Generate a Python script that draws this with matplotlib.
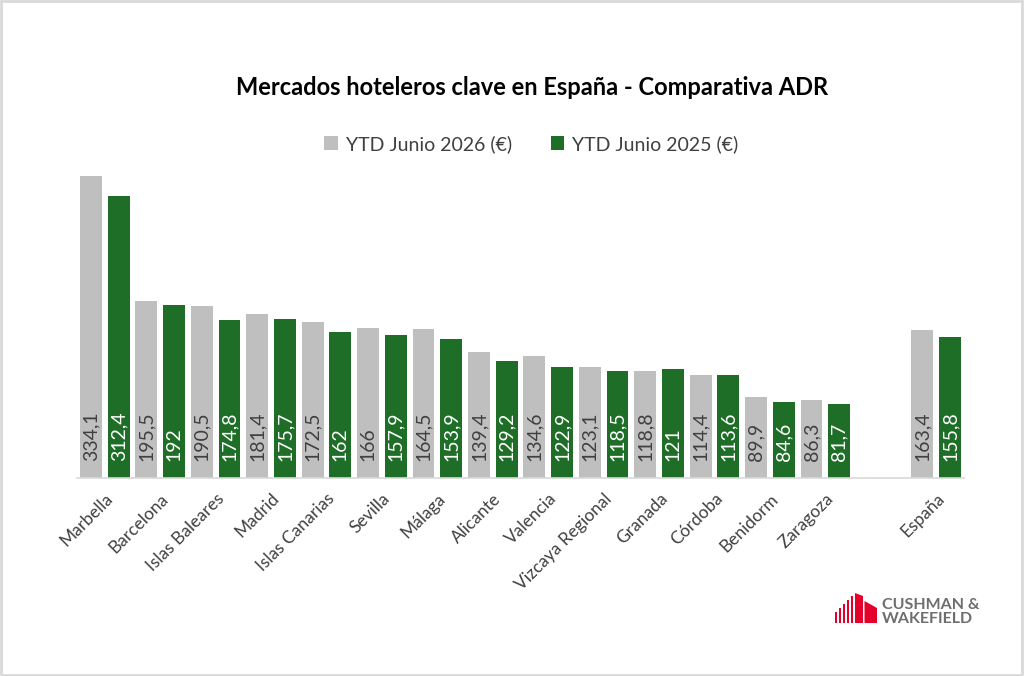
import numpy as np
import matplotlib
matplotlib.use("Agg")
import matplotlib.pyplot as plt
from matplotlib.patches import Rectangle, Polygon

plt.rcParams["font.family"] = ["Lato", "DejaVu Sans"]

TITLE = "Mercados hoteleros clave en España - Comparativa ADR"
SERIES = ["YTD Junio 2026 (€)", "YTD Junio 2025 (€)"]

cities = [
    "Marbella", "Barcelona", "Islas Baleares", "Madrid", "Islas Canarias",
    "Sevilla", "Málaga", "Alicante", "Valencia", "Vizcaya Regional",
    "Granada", "Córdoba", "Benidorm", "Zaragoza", "España",
]
adr_2026 = [334.1, 195.5, 190.5, 181.4, 172.5, 166, 164.5, 139.4, 134.6, 123.1,
            118.8, 114.4, 89.9, 86.3, 163.4]
adr_2025 = [312.4, 192, 174.8, 175.7, 162, 157.9, 153.9, 129.2, 122.9, 118.5,
            121, 113.6, 84.6, 81.7, 155.8]

GREY = "#BFBFBF"
GREEN = "#1E6E28"
TEXT = "#404040"


def fmt(v):
    s = f"{v:.1f}".replace(".", ",")
    return s[:-2] if s.endswith(",0") else s


fig = plt.figure(figsize=(10.24, 6.76), dpi=100)
ax = fig.add_axes([0.0753, 0.2929, 0.866, 0.4675])

# pair index: cities 0..13, one empty slot, then España
pos = np.array(list(range(len(cities) - 1)) + [len(cities)], dtype=float)
x_grey = pos * 2
x_green = pos * 2 + 1
w = 0.79

b1 = ax.bar(x_grey, adr_2026, w, color=GREY, label=SERIES[0])
b2 = ax.bar(x_green, adr_2025, w, color=GREEN, label=SERIES[1])

for bars, vals, col in ((b1, adr_2026, TEXT), (b2, adr_2025, "white")):
    for r, v in zip(bars, vals):
        ax.annotate(fmt(v), (r.get_x() + r.get_width() / 2, 0),
                    xytext=(0, 12), textcoords="offset points",
                    rotation=90, ha="center", va="bottom",
                    fontsize=14, color=col)

ax.set_xlim(-0.5, 31.5)
ax.set_ylim(0, 350)
ax.set_xticks(pos * 2 + 0.5)
ax.set_xticklabels(cities, rotation=45, ha="right", rotation_mode="anchor",
                   fontsize=12.5, color=TEXT)
ax.tick_params(axis="x", length=0, pad=9)
ax.set_yticks([])
for side in ("top", "right", "left"):
    ax.spines[side].set_visible(False)
ax.spines["bottom"].set_color("#D9D9D9")
ax.spines["bottom"].set_linewidth(1.2)

fig.text(0.52, 0.870, TITLE, ha="center", va="center", fontsize=17,
         fontweight="bold", color="black")
fig.legend(handles=[b1, b2], loc="center", bbox_to_anchor=(0.519, 0.787),
           ncol=2, frameon=False, fontsize=14, handlelength=0.7,
           handleheight=0.7, handletextpad=0.4, columnspacing=2.0,
           labelcolor=TEXT)

# logo
lx, ly = 835, 623  # pixel anchor (bottom-left), y from top
H = 676.0


def fx(px):
    return px / 1024.0


def fy(py):
    return 1 - py / H


RED = "#E4002B"
stripe_h = [11, 15, 19, 23, 27]
for i, h in enumerate(stripe_h):
    fig.patches.append(Rectangle((fx(lx + i * 4), fy(ly)), fx(2.2), h / H,
                                 transform=fig.transFigure, color=RED, lw=0))
fig.patches.append(Polygon([(fx(lx + 20), fy(ly)), (fx(lx + 20), fy(ly - 30)),
                            (fx(lx + 28), fy(ly - 27)), (fx(lx + 28), fy(ly))],
                           closed=True, transform=fig.transFigure, color=RED, lw=0))
fig.patches.append(Polygon([(fx(lx + 29.5), fy(ly)), (fx(lx + 29.5), fy(ly - 22)),
                            (fx(lx + 42), fy(ly - 15)), (fx(lx + 42), fy(ly))],
                           closed=True, transform=fig.transFigure, color=RED, lw=0))
fig.text(fx(882), fy(605), "CUSHMAN &", fontsize=11.5, fontweight="bold",
         color="#6E6E6E", ha="left", va="center")
fig.text(fx(882), fy(619), "WAKEFIELD", fontsize=11.5, fontweight="bold",
         color="#6E6E6E", ha="left", va="center")

fig.patches.append(Rectangle((0.001, 0.001), 0.997, 0.997, transform=fig.transFigure,
                             fill=False, edgecolor="#D9D9D9", linewidth=2))

fig.savefig("out.png", dpi=100, facecolor="white")
